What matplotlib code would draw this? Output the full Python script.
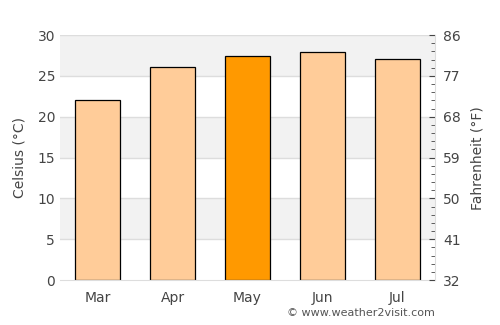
import matplotlib
matplotlib.use("Agg")
import matplotlib.pyplot as plt

months = ["Mar", "Apr", "May", "Jun", "Jul"]
temps_c = [22.0, 26.1, 27.5, 27.9, 27.1]
highlight = "May"

fig = plt.figure(figsize=(5, 3.25), dpi=100)
ax = fig.add_axes([0.12, 0.138, 0.75, 0.754])

# alternating background bands
for lo in range(0, 30, 10):
    ax.axhspan(lo + 5, lo + 10, color="#f2f2f2", zorder=0, lw=0)
for y in range(5, 31, 5):
    ax.axhline(y, color="#dddddd", lw=1, zorder=1)

colors = ["#ff9900" if m == highlight else "#ffcc99" for m in months]
ax.bar(range(len(months)), temps_c, width=0.6, color=colors,
       edgecolor="black", linewidth=0.9, zorder=2)

ax.set_xlim(-0.5, len(months) - 0.5)
ax.set_ylim(0, 30)
ax.set_xticks(range(len(months)))
ax.set_xticklabels(months)
ax.set_yticks(range(0, 31, 5))
ax.tick_params(axis="both", colors="#444444", labelsize=10, length=0)
ax.tick_params(axis="x", pad=8)
for side in ["left", "top", "right"]:
    ax.spines[side].set_visible(False)
ax.spines["bottom"].set_color("#dddddd")
ax.set_ylabel("Celsius (°C)", color="#444444", fontsize=10, labelpad=8)

ax2 = ax.twinx()
ax2.set_ylim(32, 86)
ax2.set_yticks(range(32, 87, 9))
ax2.set_yticks([32 + 1.8 * i for i in range(31)], minor=True)
ax2.tick_params(axis="y", which="major", colors="#444444", labelsize=10,
                length=4, direction="in", pad=6)
ax2.tick_params(axis="y", which="minor", colors="#444444", length=3,
                direction="in")
for side in ["left", "top", "bottom"]:
    ax2.spines[side].set_visible(False)
ax2.spines["right"].set_color("#dddddd")
ax2.set_ylabel("Fahrenheit (°F)", color="#444444", fontsize=10, labelpad=7)

fig.text(0.87, 0.02, "© www.weather2visit.com", ha="right", va="bottom",
         color="#555555", fontsize=8)

fig.savefig("out.png", dpi=100)
